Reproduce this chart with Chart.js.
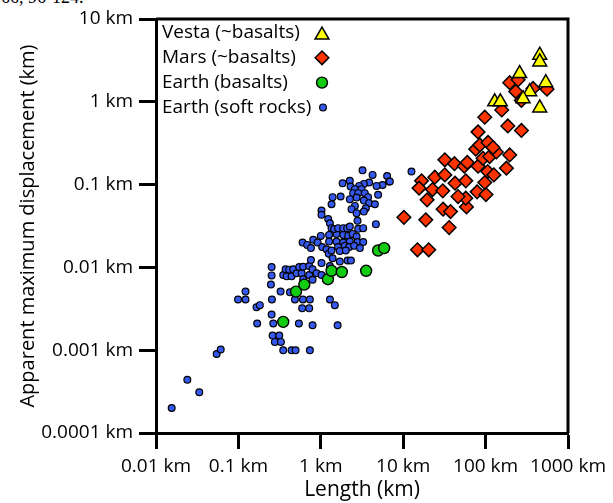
<!DOCTYPE html>
<html><head><meta charset="utf-8">
<script src="https://cdn.jsdelivr.net/npm/chart.js@4/dist/chart.umd.min.js"></script>
<style>
html,body{margin:0;padding:0;background:#fff;}
#wrap{position:relative;width:613px;height:503px;overflow:hidden;background:#fff;}
#cap{position:absolute;left:1px;top:-13px;font:18px "Liberation Serif",serif;color:#000;white-space:nowrap;}
canvas{position:absolute;left:0;top:0;}
</style></head><body>
<div id="wrap"><div id="cap">66, 96-124.</div><canvas id="c" width="613" height="503"></canvas></div>
<script>
// ---- data (km) ----
const seriesNames = ["Vesta (~basalts)", "Mars (~basalts)", "Earth (basalts)", "Earth (soft rocks)"];

const vestaLength = [454, 454, 259, 537, 343, 285, 129, 151, 454];
const vestaDisp   = [3.65, 3.03, 2.19, 1.7, 1.32, 1.09, 1.0, 1.0, 0.843];

const marsLength = [10.2, 18.8, 14.9, 20.4, 36.1, 30.5, 37.5, 19.5, 58.6, 57.5,
  46.3, 16.7, 15.6, 22.7, 30.2, 24.2, 32, 42.6, 57.5, 32,
  41.9, 55.1, 59.9, 78.8, 101, 97.7, 81, 106, 126, 179,
  196, 93.1, 112, 135, 76, 85, 107, 123, 81, 97.7,
  186, 272, 157, 196, 248, 232, 376, 556, 272];
const marsDisp = [0.0402, 0.0375, 0.0163, 0.0163, 0.0303, 0.0505, 0.0472, 0.0654, 0.0538, 0.0686,
  0.0717, 0.111, 0.0906, 0.0871, 0.084, 0.123, 0.131, 0.104, 0.111, 0.199,
  0.179, 0.167, 0.185, 0.0817, 0.0758, 0.106, 0.167, 0.144, 0.131, 0.158,
  0.228, 0.208, 0.218, 0.248, 0.268, 0.301, 0.323, 0.28, 0.433, 0.651,
  0.511, 0.451, 0.798, 1.7, 1.84, 1.33, 1.45, 1.42, 1.04];

const earthBasaltLength = [0.35, 0.5, 0.63, 1.22, 1.35, 1.8, 3.55, 4.96, 5.87];
const earthBasaltDisp   = [0.0022, 0.0051, 0.0062, 0.0072, 0.0091, 0.0088, 0.0091, 0.016, 0.0171];

const earthSoftLength = [0.0155, 0.024, 0.0335, 0.0545, 0.061, 0.099, 0.122, 0.122, 0.166, 0.182,
  0.169, 0.253, 0.253, 0.248, 0.255, 0.253, 0.265, 0.26, 0.313, 0.277,
  0.328, 0.35, 0.442, 0.494, 0.737, 0.325, 0.542, 0.794, 1.6, 0.485,
  0.607, 0.737, 0.594, 0.723, 0.422, 1.29, 1.48, 0.35, 0.385, 0.442,
  0.374, 0.414, 0.462, 0.508, 0.547, 0.585, 0.611, 0.611, 0.723, 0.723,
  0.794, 0.889, 1.02, 0.794, 0.759, 1.02, 0.601, 0.684, 0.809, 1.0,
  0.914, 0.759, 1.26, 1.26, 1.04, 1.175, 1.25, 1.39, 1.7, 2.11,
  2.32, 1.55, 1.87, 2.15, 2.43, 2.72, 1.55, 1.87, 2.25, 2.79,
  3.27, 1.62, 1.96, 2.21, 2.54, 2.98, 1.7, 2.01, 1.35, 1.23,
  1.29, 1.35, 1.45, 1.62, 1.87, 2.09, 2.25, 2.84, 3.27, 2.79,
  4.66, 1.02, 1.02, 3.21, 4.25, 6.38, 6.75, 5.61, 4.75, 3.86,
  3.33, 2.92, 2.25, 1.84, 2.3, 2.59, 3.12, 2.47, 2.84, 3.42,
  3.75, 4.96, 2.72, 2.25, 1.74, 1.39, 1.35, 3.33, 3.86, 4.53,
  2.59, 2.36, 3.52, 3.33, 2.72, 12.6, 6.88, 1.29];
const earthSoftDisp = [0.0002, 0.00044, 0.00031, 0.0009, 0.00102, 0.0041, 0.0041, 0.0051, 0.0033, 0.0035,
  0.0021, 0.0101, 0.008, 0.0062, 0.0041, 0.0027, 0.0021, 0.0015, 0.0015, 0.00126,
  0.00126, 0.001, 0.001, 0.001, 0.001, 0.0051, 0.0021, 0.002, 0.002, 0.0041,
  0.0041, 0.0041, 0.0032, 0.0032, 0.005, 0.0041, 0.0035, 0.0081, 0.0078, 0.0078,
  0.0095, 0.0094, 0.0095, 0.0085, 0.0101, 0.0085, 0.0102, 0.0072, 0.0104, 0.0081,
  0.0095, 0.0085, 0.0081, 0.0071, 0.0123, 0.0113, 0.02, 0.0187, 0.0215, 0.024,
  0.02, 0.0171, 0.0247, 0.0205, 0.0176, 0.0166, 0.0146, 0.0129, 0.0118, 0.0121,
  0.0121, 0.0254, 0.0247, 0.024, 0.0254, 0.0236, 0.0205, 0.02, 0.0205, 0.0202,
  0.0202, 0.0176, 0.0182, 0.0176, 0.0182, 0.0171, 0.0158, 0.016, 0.016, 0.0383,
  0.0342, 0.0298, 0.029, 0.0298, 0.0298, 0.0298, 0.0311, 0.0292, 0.0298, 0.0365,
  0.0333, 0.0486, 0.0431, 0.149, 0.131, 0.127, 0.109, 0.099, 0.0965, 0.106,
  0.102, 0.0965, 0.111, 0.104, 0.0946, 0.0881, 0.0881, 0.0788, 0.0788, 0.0788,
  0.0705, 0.0752, 0.0697, 0.0667, 0.0717, 0.0705, 0.058, 0.0641, 0.0597, 0.058,
  0.0553, 0.0505, 0.0519, 0.0472, 0.0452, 0.144, 0.109, 0.0104];

const xTickValues = [0.01, 0.1, 1, 10, 100, 1000];
const xTickLabels = ["0.01 km", "0.1 km", "1 km", "10 km", "100 km", "1000 km"];
const yTickValues = [0.0001, 0.001, 0.01, 0.1, 1, 10];
const yTickLabels = ["0.0001 km", "0.001 km", "0.01 km", "0.1 km", "1 km", "10 km"];
const xTitle = "Length (km)";
const yTitle = "Apparent maximum displacement (km)";

// ---- chart ----
const FONT = "'Open Sans', 'Liberation Sans', sans-serif";
const pts = (xs, ys) => xs.map((x, i) => ({x: x, y: ys[i]}));

const styles = [
  {pointStyle: 'triangle', radius: 8, backgroundColor: '#ffff00', borderWidth: 1.5},
  {pointStyle: 'rectRot', radius: 6.8, backgroundColor: '#ff3300', borderWidth: 1.5},
  {pointStyle: 'circle', radius: 5.5, backgroundColor: '#11cc11', borderWidth: 1.4},
  {pointStyle: 'circle', radius: 3.4, backgroundColor: '#3558ee', borderWidth: 1.2}
];
const seriesData = [
  pts(vestaLength, vestaDisp),
  pts(marsLength, marsDisp),
  pts(earthBasaltLength, earthBasaltDisp),
  pts(earthSoftLength, earthSoftDisp)
];

const datasets = seriesNames.map((name, i) => ({
  label: name,
  data: seriesData[i],
  pointStyle: styles[i].pointStyle,
  pointRadius: styles[i].radius,
  pointHoverRadius: styles[i].radius,
  pointBackgroundColor: styles[i].backgroundColor,
  pointBorderColor: '#000',
  pointBorderWidth: styles[i].borderWidth,
  backgroundColor: styles[i].backgroundColor,
  borderColor: '#000',
  showLine: false,
  clip: false
}));

const framePlugin = {
  id: 'frame',
  beforeDatasetsDraw(chart) {
    const {ctx, chartArea: a} = chart;
    ctx.save();
    ctx.strokeStyle = '#000';
    ctx.lineWidth = 3;
    ctx.beginPath();
    ctx.moveTo(a.left, a.top);
    ctx.lineTo(a.right, a.top);
    ctx.lineTo(a.right, a.bottom);
    ctx.stroke();
    ctx.restore();
  }
};

const legendPlugin = {
  id: 'insideLegend',
  afterDraw(chart) {
    const {ctx, chartArea: a} = chart;
    ctx.save();
    ctx.font = "19px " + FONT;
    ctx.textBaseline = 'middle';
    ctx.textAlign = 'left';
    chart.data.datasets.forEach((ds, i) => {
      const y = a.top + 14 + i * 24.8;
      ctx.fillStyle = '#000';
      ctx.fillText(ds.label, a.left + 6, y);
      const st = styles[i];
      ctx.fillStyle = st.backgroundColor;
      ctx.strokeStyle = '#000';
      ctx.lineWidth = st.borderWidth;
      const mx = a.left + 166 + (i === 3 ? 1 : 0);
      const my = y + (st.pointStyle === 'triangle' ? 2 : 0);
      Chart.helpers.drawPoint(ctx, {pointStyle: st.pointStyle, rotation: 0, radius: st.radius, borderWidth: st.borderWidth}, mx, my);
    });
    ctx.restore();
  }
};

new Chart(document.getElementById('c').getContext('2d'), {
  type: 'scatter',
  data: {datasets: datasets},
  options: {
    responsive: false,
    animation: false,
    devicePixelRatio: 1,
    layout: {padding: {top: 19, right: 45, left: 0, bottom: 0}},
    plugins: {legend: {display: false}, tooltip: {enabled: false}},
    scales: {
      x: {
        type: 'logarithmic', position: 'bottom', min: 0.01, max: 1000,
        afterBuildTicks: s => { s.ticks = xTickValues.map(v => ({value: v})); },
        afterFit: s => { s.height = 70; },
        ticks: {callback: (v, i) => xTickLabels[i], autoSkip: false, maxRotation: 0,
                font: {family: FONT, size: 19}, color: '#000', padding: 6},
        grid: {drawOnChartArea: false, drawTicks: true, tickLength: 16, tickWidth: 3, tickColor: '#000'},
        border: {display: true, width: 3, color: '#000'},
        title: {display: true, text: xTitle, color: '#000', font: {family: FONT, size: 21},
                padding: {top: 0, bottom: 0}}
      },
      y: {
        type: 'logarithmic', position: 'left', min: 0.0001, max: 10,
        afterBuildTicks: s => { s.ticks = yTickValues.map(v => ({value: v})); },
        afterFit: s => { s.width = 156; },
        ticks: {callback: (v, i) => yTickLabels[i], autoSkip: false,
                font: {family: FONT, size: 19}, color: '#000', padding: 6},
        grid: {drawOnChartArea: false, drawTicks: true, tickLength: 17, tickWidth: 3, tickColor: '#000'},
        border: {display: true, width: 3, color: '#000'},
        title: {display: true, text: yTitle, color: '#000', font: {family: FONT, size: 20},
                padding: {top: 16, bottom: 0}}
      }
    }
  },
  plugins: [framePlugin, legendPlugin]
});
</script>
</body></html>
